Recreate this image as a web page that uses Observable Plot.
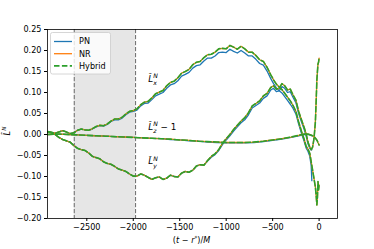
<!DOCTYPE html>
<html><head><meta charset="utf-8">
<script src="https://cdn.jsdelivr.net/npm/d3@7"></script>
<script src="https://cdn.jsdelivr.net/npm/@observablehq/plot@0.6"></script>
<style>
html,body{margin:0;padding:0;background:#fff;}
#chart{position:relative;width:374px;height:249px;}
</style></head><body><div id="chart"></div>
<script>
// ---- data ----
const seriesNames = ["PN", "NR", "Hybrid"];
const seriesColors = ["#1f77b4", "#ff7f0e", "#2ca02c"];
const xTicks = [-2500, -2000, -1500, -1000, -500, 0];
const yTicks = [-0.20, -0.15, -0.10, -0.05, 0.00, 0.05, 0.10, 0.15, 0.20, 0.25];
const shadeSpan = [-2635, -1975];

// common time grid for L_x and L_y
const t = [-2920,-2880,-2840,-2800,-2760,-2720,-2680,-2640,-2600,-2560,
  -2520,-2480,-2440,-2400,-2360,-2320,-2280,-2240,-2200,-2160,
  -2120,-2080,-2040,-2000,-1960,-1920,-1880,-1840,-1800,-1760,
  -1720,-1680,-1640,-1600,-1560,-1520,-1480,-1440,-1400,-1360,
  -1320,-1280,-1240,-1200,-1160,-1120,-1080,-1040,-1000,-960,
  -920,-880,-840,-800,-760,-720,-680,-640,-600,-560,
  -520,-490,-460,-430,-400,-370,-340,-310,-280,-250,
  -220,-190,-160,-140,-120,-100,-85,-70,-55,-40,
  -30,-24,-18,-12,-6,0];

const lxNR = [0.007,0.005,0.003,0.006,0.009,0.006,0.002,0.004,0.010,0.013,
  0.011,0.010,0.014,0.019,0.022,0.021,0.025,0.032,0.037,0.037,
  0.041,0.049,0.055,0.057,0.061,0.071,0.077,0.079,0.087,0.097,
  0.101,0.105,0.116,0.124,0.127,0.135,0.146,0.150,0.155,0.166,
  0.172,0.174,0.183,0.190,0.191,0.196,0.204,0.205,0.204,0.212,
  0.208,0.203,0.210,0.204,0.196,0.196,0.188,0.178,0.174,0.160,
  0.142,0.130,0.120,0.113,0.107,0.098,0.089,0.080,0.069,0.055,
  0.030,0.008,-0.012,-0.028,-0.035,-0.045,-0.065,-0.085,-0.105,-0.125,
  -0.150,-0.168,-0.150,-0.112,-0.132,-0.120];

const lyNR = [0.006,0.004,0.000,-0.007,-0.012,-0.015,-0.018,-0.026,-0.033,-0.036,
  -0.038,-0.044,-0.052,-0.055,-0.058,-0.065,-0.069,-0.071,-0.076,-0.082,
  -0.085,-0.088,-0.094,-0.099,-0.099,-0.094,-0.097,-0.102,-0.107,-0.103,
  -0.101,-0.107,-0.104,-0.097,-0.100,-0.101,-0.092,-0.088,-0.090,-0.085,
  -0.075,-0.072,-0.073,-0.062,-0.052,-0.046,-0.036,-0.021,-0.010,0.000,
  0.012,0.022,0.032,0.040,0.052,0.068,0.074,0.080,0.092,0.098,
  0.112,0.116,0.108,0.110,0.121,0.116,0.106,0.108,0.094,0.082,
  0.055,0.035,0.016,0.002,-0.018,-0.030,-0.036,-0.030,-0.010,0.030,
  0.090,0.130,0.150,0.168,0.172,0.182];

// PN stops before merger
const pnT = [-2920,-2880,-2840,-2800,-2760,-2720,-2680,-2640,-2600,-2560,
  -2520,-2480,-2440,-2400,-2360,-2320,-2280,-2240,-2200,-2160,
  -2120,-2080,-2040,-2000,-1960,-1920,-1880,-1840,-1800,-1760,
  -1720,-1680,-1640,-1600,-1560,-1520,-1480,-1440,-1400,-1360,
  -1320,-1280,-1240,-1200,-1160,-1120,-1080,-1040,-1000,-960,
  -920,-880,-840,-800,-760,-720,-680,-640,-600,-560,
  -520,-490,-460,-430,-400,-370,-340,-310,-280,-250,
  -220,-190,-160,-140,-120,-100,-85,-78];

const lxPN = [0.007,0.005,0.003,0.006,0.009,0.006,0.002,0.004,0.010,0.013,
  0.011,0.010,0.013,0.018,0.021,0.020,0.024,0.031,0.035,0.035,
  0.039,0.047,0.053,0.055,0.058,0.068,0.074,0.075,0.083,0.092,
  0.096,0.100,0.110,0.118,0.121,0.128,0.139,0.143,0.148,0.158,
  0.164,0.166,0.175,0.182,0.182,0.187,0.195,0.196,0.195,0.203,
  0.198,0.194,0.200,0.194,0.187,0.187,0.179,0.169,0.165,0.151,
  0.133,0.121,0.111,0.104,0.099,0.090,0.081,0.072,0.062,0.049,
  0.025,0.003,-0.017,-0.032,-0.040,-0.052,-0.075,-0.110];

const lyPN = [0.006,0.004,0.000,-0.007,-0.012,-0.015,-0.018,-0.026,-0.033,-0.036,
  -0.038,-0.044,-0.052,-0.055,-0.058,-0.065,-0.069,-0.071,-0.076,-0.082,
  -0.085,-0.088,-0.094,-0.099,-0.099,-0.094,-0.097,-0.102,-0.107,-0.103,
  -0.101,-0.107,-0.104,-0.097,-0.100,-0.101,-0.092,-0.088,-0.090,-0.085,
  -0.075,-0.072,-0.073,-0.063,-0.054,-0.048,-0.038,-0.024,-0.013,-0.003,
  0.008,0.018,0.028,0.035,0.047,0.063,0.069,0.075,0.086,0.092,
  0.106,0.110,0.102,0.104,0.114,0.110,0.100,0.102,0.088,0.076,
  0.050,0.030,0.012,-0.003,-0.022,-0.033,-0.037,-0.036];

// L_z - 1
const lzT = [-2920,-2800,-2700,-2600,-2500,-2400,-2300,-2200,-2100,-2000,
  -1900,-1800,-1700,-1600,-1500,-1400,-1300,-1200,-1100,-1000,
  -900,-800,-700,-600,-500,-400,-300,-220,-160,-120,
  -90,-70,-50,-35,-20,-10,0];
const lzNR = [0.000,0.001,0.000,-0.001,-0.002,-0.003,-0.004,-0.005,-0.006,-0.007,
  -0.008,-0.009,-0.010,-0.011,-0.013,-0.014,-0.016,-0.017,-0.018,-0.019,
  -0.019,-0.019,-0.018,-0.016,-0.013,-0.010,-0.006,-0.002,0.001,0.001,
  -0.001,-0.003,-0.006,-0.010,-0.015,-0.020,-0.025];
const lzPNT = [-2920,-2800,-2700,-2600,-2500,-2400,-2300,-2200,-2100,-2000,
  -1900,-1800,-1700,-1600,-1500,-1400,-1300,-1200,-1100,-1000,
  -900,-800,-700,-600,-500,-400,-300,-220,-160,-120,
  -90,-80];
const lzPN = [0.000,0.001,0.000,-0.001,-0.002,-0.003,-0.004,-0.005,-0.006,-0.007,
  -0.008,-0.009,-0.010,-0.012,-0.013,-0.015,-0.016,-0.018,-0.019,-0.020,
  -0.020,-0.020,-0.019,-0.017,-0.014,-0.011,-0.007,-0.003,0.000,0.000,
  -0.002,-0.003];

// annotation labels
const annX = [-1833, -1833, -1833];
const annY = [0.1245, 0.0105, -0.0725];
const annSub = ["x", "z", "y"];
const annSuffix = ["", " \u2212 1", ""];

// ---- build tables ----
function rowsOf(xs, ys, comp) { return xs.map((x, i) => ({x, y: ys[i], comp})); }
const pnRows = [...rowsOf(pnT, lxPN, "x"), ...rowsOf(pnT, lyPN, "y"), ...rowsOf(lzPNT, lzPN, "z")];
const nrRows = [...rowsOf(t, lxNR, "x"), ...rowsOf(t, lyNR, "y"), ...rowsOf(lzT, lzNR, "z")];
const hyRows = nrRows;

const FS = 8.1;
const AFS = 8.8;
const chart = Plot.plot({
  width: 374, height: 249,
  marginLeft: 47, marginRight: 37, marginTop: 29, marginBottom: 31,
  style: {fontFamily: "'DejaVu Sans', sans-serif", fontSize: FS + "px", background: "#fff", color: "#000"},
  x: {domain: [-2923, 198], ticks: xTicks, tickFormat: d3.format("d"), tickSize: 3, tickPadding: 3, label: null},
  y: {domain: [-0.2, 0.25], ticks: yTicks, tickFormat: d3.format(".2f"), tickSize: 3, tickPadding: 3, label: null},
  marks: [
    Plot.rect([shadeSpan], {x1: d => d[0], x2: d => d[1], fill: "#e6e6e6"}),
    Plot.ruleX(shadeSpan, {stroke: "#6b6b6b", strokeWidth: 1, strokeDasharray: "4.2,1.8"}),
    Plot.line(pnRows, {x: "x", y: "y", z: "comp", stroke: seriesColors[0], strokeWidth: 1.3}),
    Plot.line(nrRows, {x: "x", y: "y", z: "comp", stroke: seriesColors[1], strokeWidth: 1.3}),
    Plot.line(hyRows, {x: "x", y: "y", z: "comp", stroke: seriesColors[2], strokeWidth: 1.6, strokeDasharray: "5.5,2.4"}),
    Plot.frame({stroke: "#000", strokeWidth: 0.8})
  ]
});
document.getElementById("chart").appendChild(chart);

const sx = chart.scale("x"), sy = chart.scale("y");
const svg = d3.select(chart);
const g = svg.append("g").attr("font-family", "'DejaVu Sans', sans-serif").attr("fill", "#000").attr("text-anchor", "start");

function mathL(sel, sub, suffix, fs) {
  sel.append("tspan").attr("font-style", "italic").text("L\u0302");
  sel.append("tspan").attr("font-style", "italic").attr("font-size", fs * 0.7).attr("dy", -fs * 0.42).text("N");
  if (sub) sel.append("tspan").attr("font-style", "italic").attr("font-size", fs * 0.7).attr("dx", -fs * 0.7 * 0.75).attr("dy", fs * 0.78).text(sub);
  if (suffix) sel.append("tspan").attr("dy", -fs * 0.36).attr("dx", fs * 0.15).text(suffix);
}

annX.forEach((x, i) => {
  const txt = g.append("text").attr("text-anchor", "start").attr("x", sx.apply(x)).attr("y", sy.apply(annY[i])).attr("font-size", AFS);
  mathL(txt, annSub[i], annSuffix[i], AFS);
});

// y label
const yl = g.append("text").attr("font-size", FS).attr("text-anchor", "middle")
  .attr("transform", "translate(9.5,131) rotate(-90)");
mathL(yl, "", "", FS);

// x label
const xl = g.append("text").attr("font-size", FS).attr("text-anchor", "middle")
  .attr("x", 191.5).attr("y", 243);
xl.append("tspan").text("(");
xl.append("tspan").attr("font-style", "italic").text("t");
xl.append("tspan").text(" \u2212 ");
xl.append("tspan").attr("font-style", "italic").text("r");
xl.append("tspan").attr("font-size", FS * 0.7).attr("dy", -FS * 0.4).text("*");
xl.append("tspan").attr("dy", FS * 0.4).text(")/");
xl.append("tspan").attr("font-style", "italic").text("M");

// legend
const lg = svg.append("g").attr("font-family", "'DejaVu Sans', sans-serif").attr("font-size", FS).attr("text-anchor", "start");
lg.append("rect").attr("x", 50.5).attr("y", 32.5).attr("width", 60).attr("height", 41.5)
  .attr("rx", 2).attr("fill", "#fff").attr("fill-opacity", 0.8).attr("stroke", "#cccccc").attr("stroke-width", 0.8);
seriesNames.forEach((name, i) => {
  const yy = 41.5 + i * 12.2;
  const ln = lg.append("line").attr("x1", 54).attr("x2", 72).attr("y1", yy).attr("y2", yy)
    .attr("stroke", seriesColors[i]).attr("stroke-width", i === 2 ? 1.6 : 1.3);
  if (i === 2) ln.attr("stroke-dasharray", "5.5,2.4");
  lg.append("text").attr("text-anchor", "start").attr("x", 79).attr("y", yy + 2.9).attr("fill", "#000").text(name);
});
</script></body></html>
